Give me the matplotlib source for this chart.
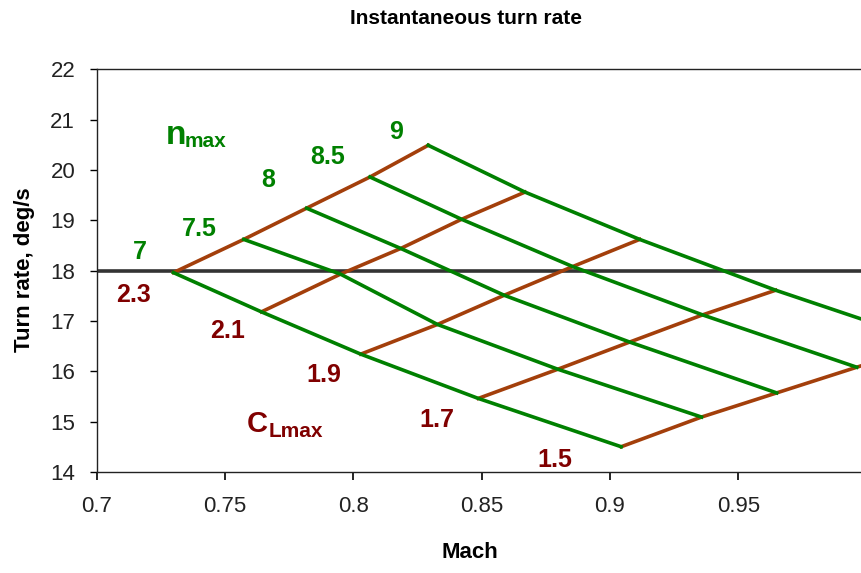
import numpy as np
from matplotlib import pyplot as plt

plt.rcParams['font.family'] = ['Liberation Sans', 'DejaVu Sans']

# carpet plot: rows = CLmax, columns = nmax
cl_values = ['2.3', '2.1', '1.9', '1.7', '1.5']
n_values = ['7', '7.5', '8', '8.5', '9']

mach_grid = [
    [0.7299, 0.7573, 0.7818, 0.8065, 0.8292],
    [0.7642, 0.7950, 0.8185, 0.8422, 0.8669],
    [0.8029, 0.8328, 0.8588, 0.8855, 0.9116],
    [0.8487, 0.8797, 0.9077, 0.9361, 0.9646],
    [0.9044, 0.9357, 0.9650, 0.9962, 1.0259],
]
rate_grid = [
    [17.96, 18.62, 19.24, 19.86, 20.49],
    [17.18, 17.93, 18.44, 19.02, 19.56],
    [16.34, 16.93, 17.51, 18.08, 18.62],
    [15.46, 16.04, 16.58, 17.12, 17.61],
    [14.50, 15.09, 15.57, 16.08, 16.56],
]
target_rate = 18.0

# label anchor spots (Mach, rate at text baseline)
n_label_pos = [(0.7169, 18.235), (0.7399, 18.692), (0.7668, 19.666),
               (0.7898, 20.123), (0.8167, 20.620)]
cl_label_pos = [(0.7142, 17.380), (0.7509, 16.664), (0.7885, 15.783),
                (0.8327, 14.889), (0.8786, 14.099)]

xticks = [0.7, 0.75, 0.8, 0.85, 0.9, 0.95]
xtick_labels = ['0.7', '0.75', '0.8', '0.85', '0.9', '0.95']
yticks = [14, 15, 16, 17, 18, 19, 20, 21, 22]

green = '#008000'
brown = '#A33F0B'
maroon = '#800000'

M = np.array(mach_grid)
R = np.array(rate_grid)

fig = plt.figure(figsize=(8.62, 5.73), dpi=100)
ax = fig.add_axes([96.7 / 862, 101.1 / 573, 769.8 / 862, 402.6 / 573])

ax.axhline(target_rate, color='#333333', lw=2.6, zorder=1)

# constant CLmax lines (brown)
for i in range(len(cl_values)):
    ax.plot(M[i, :], R[i, :], color=brown, lw=2.6, zorder=2)
# constant nmax lines (green)
for j in range(len(n_values)):
    ax.plot(M[:, j], R[:, j], color=green, lw=2.6, zorder=3)

for lab, (x, y) in zip(n_values, n_label_pos):
    ax.text(x, y, lab, color=green, fontsize=18, fontweight='bold',
            ha='center', va='baseline')
for lab, (x, y) in zip(cl_values, cl_label_pos):
    ax.text(x, y, lab, color=maroon, fontsize=18, fontweight='bold',
            ha='center', va='baseline')

ax.text(0.7271, 20.51, 'n', color=green, fontsize=24, fontweight='bold',
        ha='left', va='baseline')
ax.text(0.7341, 20.45, 'max', color=green, fontsize=15, fontweight='bold',
        ha='left', va='baseline')
ax.text(0.7584, 14.80, 'C', color=maroon, fontsize=21, fontweight='bold',
        ha='left', va='baseline')
ax.text(0.7670, 14.70, 'Lmax', color=maroon, fontsize=15, fontweight='bold',
        ha='left', va='baseline')

ax.set_xlim(0.7, 1.0)
ax.set_ylim(14, 22)
ax.set_xticks(xticks)
ax.set_xticklabels(xtick_labels)
ax.set_yticks(yticks)
ax.tick_params(axis='x', direction='out', length=5.5, width=1.2, pad=12,
               labelsize=16, labelcolor='#222222')
ax.tick_params(axis='y', direction='out', length=5, width=1.0, pad=10.5,
               labelsize=16, labelcolor='#222222')
for s in ax.spines.values():
    s.set_linewidth(1.0)
    s.set_color('#222222')

fig.text(466 / 862, 1 - 19 / 573, 'Instantaneous turn rate', ha='center',
         va='center', fontsize=15, fontweight='bold')
fig.text(470 / 862, 1 - 553 / 573, 'Mach', ha='center', va='center',
         fontsize=16, fontweight='bold')
fig.text(25 / 862, 1 - 270 / 573, 'Turn rate, deg/s', ha='center',
         va='center', rotation=90, fontsize=16, fontweight='bold')

fig.savefig('out.png', dpi=100)
